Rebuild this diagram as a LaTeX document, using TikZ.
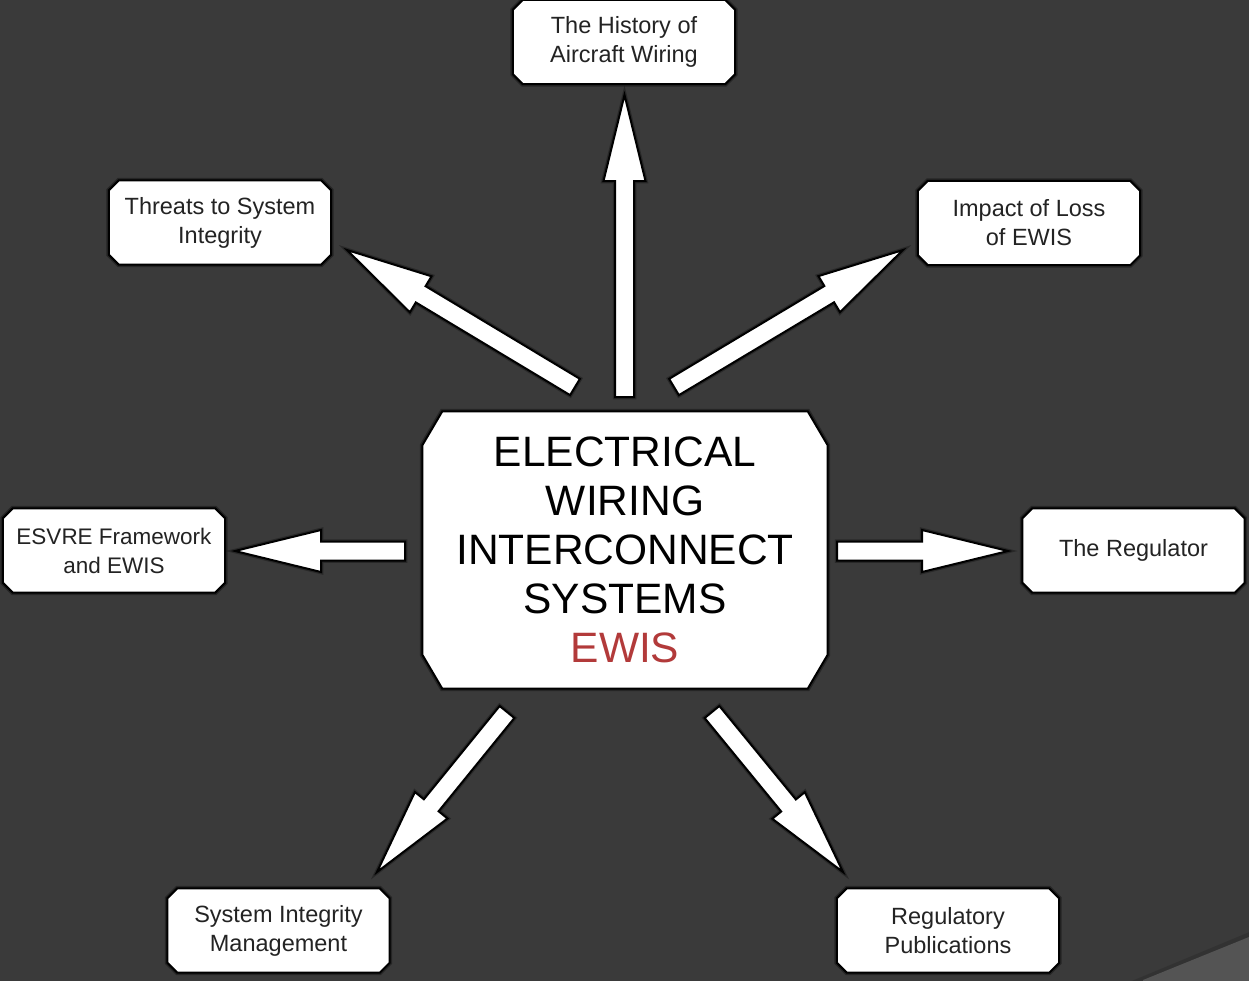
\documentclass[tikz,border=0pt]{standalone}
\usepackage{fontspec}
\setmainfont{Liberation Sans}
\usetikzlibrary{calc}
\pgfdeclarelayer{bg}
\pgfdeclarelayer{boxes}
\pgfsetlayers{bg,boxes,main}
\definecolor{bgcol}{RGB}{58,58,58}
\definecolor{curlcol}{RGB}{84,84,84}
\definecolor{ewisred}{RGB}{178,58,58}
\definecolor{txt}{RGB}{35,35,35}
\tikzset{
  sbox/.style={shape=rectangle, draw=none, inner sep=0pt, align=center,
    minimum width=222pt, minimum height=84pt, text=txt,
    font=\fontsize{23.5}{29}\selectfont},
  cbox/.style={shape=rectangle, draw=none, inner sep=0pt, align=center,
    minimum width=405pt, minimum height=277pt, text=black,
    font=\fontsize{42.5}{49}\selectfont},
  boxline/.style={draw=black, fill=white, line width=2pt, line join=miter,
    preaction={draw=black, draw opacity=0.35, line width=5pt}},
  arr/.style={draw=black, fill=white, line width=2pt, line join=miter,
    preaction={draw=black, draw opacity=0.3, line width=4.5pt}},
}
\newcommand\chamf[3]{%
  \begin{pgfonlayer}{boxes}
  \draw[boxline] ($(#1.north west)+(#2,0pt)$) -- ($(#1.north east)+(-#2,0pt)$)
    -- ($(#1.north east)+(0pt,-#3)$) -- ($(#1.south east)+(0pt,#3)$)
    -- ($(#1.south east)+(-#2,0pt)$) -- ($(#1.south west)+(#2,0pt)$)
    -- ($(#1.south west)+(0pt,#3)$) -- ($(#1.north west)+(0pt,-#3)$) -- cycle;
  \end{pgfonlayer}}
\newcommand\blockarrow[2]{%
  \path ($(#2)!86pt!(#1)$) coordinate (ab);
  \draw[arr] ($(#1)!9.5pt!90:(#2)$) -- ($(ab)!9.5pt!90:(#2)$)
    -- ($(ab)!21pt!90:(#2)$) -- (#2) -- ($(ab)!21pt!-90:(#2)$)
    -- ($(ab)!9.5pt!-90:(#2)$) -- ($(#1)!9.5pt!-90:(#2)$) -- cycle;}
\begin{document}
\begin{tikzpicture}[x=1pt,y=-1pt]
\useasboundingbox (0,0) rectangle (1249,980);
\begin{pgfonlayer}{bg}
\fill[bgcol] (-10,-10) rectangle (1259,990);
\fill[black, opacity=0.12] (1110,990) -- (1259,928) -- (1259,937) -- (1143,990) -- cycle;
\fill[black, opacity=0.12] (1127,990) -- (1259,934) -- (1259,937) -- (1143,990) -- cycle;
\fill[curlcol] (1143,980) -- (1249,937) -- (1259,937) -- (1259,990) -- (1143,990) -- cycle;
\end{pgfonlayer}

% nodes
\node[cbox] (c) at (625,550) {ELECTRICAL\\WIRING\\INTERCONNECT\\SYSTEMS\\\textcolor{ewisred}{EWIS}};
\chamf{c}{20pt}{34pt}
\node[sbox] (hist) at (624,42) {The History of\\Aircraft Wiring};
\chamf{hist}{10pt}{10pt}
\node[sbox] (thr) at (220,222.5) {Threats to System\\Integrity};
\chamf{thr}{10pt}{10pt}
\node[sbox] (imp) at (1029,223) {Impact of Loss\\of EWIS};
\chamf{imp}{10pt}{10pt}
\node[sbox, font=\fontsize{22.5}{29}\selectfont] (esv) at (114,550.5) {ESVRE Framework\\and EWIS};
\chamf{esv}{10pt}{10pt}
\node[sbox] (reg) at (1133.5,550.5) {The Regulator};
\chamf{reg}{10pt}{10pt}
\node[sbox] (sim) at (278.5,930.5) {System Integrity\\Management};
\chamf{sim}{10pt}{10pt}
\node[sbox] (pub) at (948,930.5) {Regulatory\\Publications};
\chamf{pub}{10pt}{10pt}

% arrow end points
\coordinate (upT) at (624.5,397); \coordinate (upH) at (624.5,95);
\coordinate (luT) at (575,387);   \coordinate (luH) at (347,250);
\coordinate (ruT) at (674,387);   \coordinate (ruH) at (903,250);
\coordinate (lT) at (405,551);    \coordinate (lH) at (235,551);
\coordinate (rT) at (837,551);    \coordinate (rH) at (1008,551);
\coordinate (dlT) at (507,712);   \coordinate (dlH) at (377,872);
\coordinate (drT) at (712,712);   \coordinate (drH) at (843,872);

\blockarrow{upT}{upH}
\blockarrow{luT}{luH}
\blockarrow{ruT}{ruH}
\blockarrow{lT}{lH}
\blockarrow{rT}{rH}
\blockarrow{dlT}{dlH}
\blockarrow{drT}{drH}
\end{tikzpicture}
\end{document}
